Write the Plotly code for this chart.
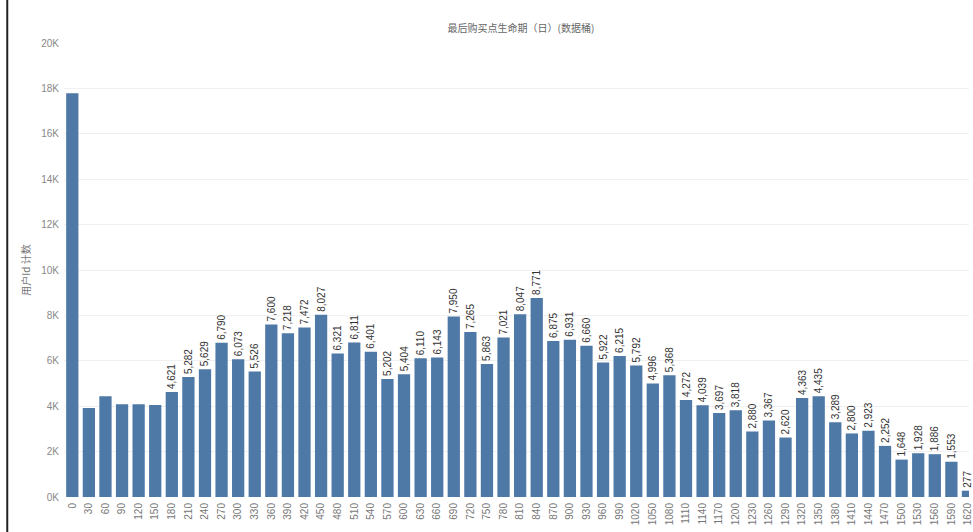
import plotly.graph_objects as go

# Lifecycle buckets (days since last purchase), 30-day bins
bins = [str(d) for d in range(0, 1650, 30)]

# Count of user ids per bucket
counts = [
    17790, 3920, 4440, 4090, 4090, 4050, 4621, 5282, 5629, 6790,
    6073, 5526, 7600, 7218, 7472, 8027, 6321, 6811, 6401, 5202,
    5404, 6110, 6143, 7950, 7265, 5863, 7021, 8047, 8771, 6875,
    6931, 6660, 5922, 6215, 5792, 4996, 5368, 4272, 4039, 3697,
    3818, 2880, 3367, 2620, 4363, 4435, 3289, 2800, 2923, 2252,
    1648, 1928, 1886, 1553, 277,
]

# The first six buckets carry no value label
hidden_labels = 6
labels = ["" if i < hidden_labels else f"{v:,}" for i, v in enumerate(counts)]

y_ticks = list(range(0, 20001, 2000))
y_ticktext = [f"{v // 1000}K" for v in y_ticks]

W, H = 973, 532
ML, MR, MT, MB = 64, 0, 43, 35
plot_w = W - ML - MR
slot_px = 16.66
x_hi = -0.5 + plot_w / slot_px

fig = go.Figure(
    go.Bar(
        x=bins,
        y=counts,
        marker=dict(color="#4e79a7", line=dict(width=0)),
        text=labels,
        textposition="outside",
        textangle=-90,
        constraintext="none",
        cliponaxis=False,
        textfont=dict(family="Liberation Sans, Arial, sans-serif", size=10, color="#333333"),
        hoverinfo="x+y",
    )
)

fig.update_layout(
    width=W,
    height=H,
    margin=dict(l=ML, r=MR, t=MT, b=MB, pad=0),
    paper_bgcolor="white",
    plot_bgcolor="white",
    bargap=0.26,
    showlegend=False,
    title=dict(
        text="最后购买点生命期（日）(数据桶)",
        x=(523 - ML) / plot_w,
        xref="paper",
        xanchor="center",
        y=1 - 28 / H,
        yanchor="middle",
        font=dict(family="Noto Sans CJK SC, sans-serif", size=10, color="#666666"),
    ),
    xaxis=dict(
        type="category",
        range=[-0.5, x_hi],
        tickangle=-90,
        ticks="",
        ticklabelstandoff=3,
        tickfont=dict(family="Liberation Sans, Arial, sans-serif", size=10, color="#777777"),
        showgrid=False,
        showline=False,
        zeroline=False,
    ),
    yaxis=dict(
        range=[0, 20000],
        tickvals=y_ticks,
        ticktext=y_ticktext,
        ticks="",
        ticklabelstandoff=4,
        tickfont=dict(family="Liberation Sans, Arial, sans-serif", size=10, color="#888888"),
        showgrid=True,
        gridcolor="#f0f0f0",
        gridwidth=1,
        zeroline=False,
        showline=False,
        title=dict(
            text="用户Id 计数",
            standoff=8,
            font=dict(family="Noto Sans CJK SC, sans-serif", size=10, color="#777777"),
        ),
    ),
    shapes=[
        dict(
            type="line",
            xref="paper",
            yref="paper",
            x0=(7 - ML) / plot_w,
            x1=(7 - ML) / plot_w,
            y0=-MB / (H - MT - MB),
            y1=1 + MT / (H - MT - MB),
            line=dict(color="#222222", width=2),
        )
    ],
)

fig.write_html("out.html")
